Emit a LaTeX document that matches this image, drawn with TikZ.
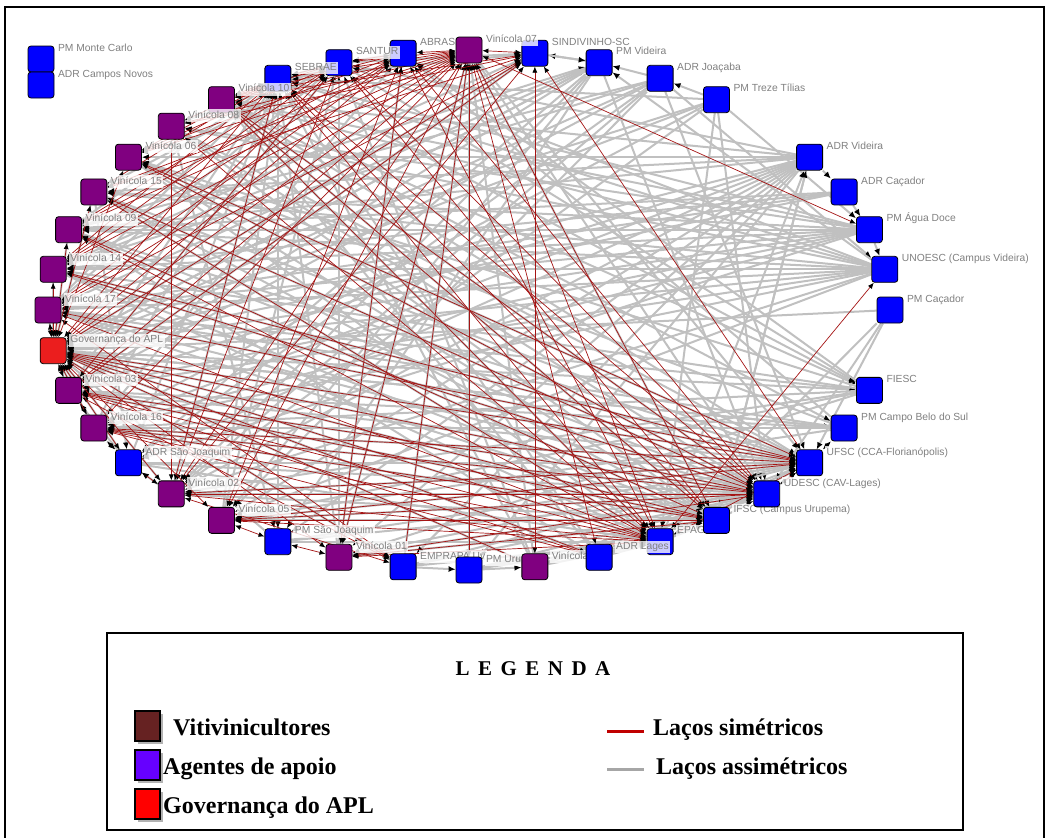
\documentclass[tikz,border=0pt]{standalone}
\usepackage{fontspec}
\setmainfont{Liberation Serif}
\newfontfamily\lblfont{Liberation Sans}
\usetikzlibrary{arrows.meta}
\pgfdeclarelayer{edges}
\pgfdeclarelayer{paper}
\pgfsetlayers{paper,edges,main}
\definecolor{nodeblue}{RGB}{0,0,255}
\definecolor{nodepurple}{RGB}{128,0,128}
\definecolor{nodered}{RGB}{235,30,30}
\definecolor{lblgray}{RGB}{128,128,128}
\definecolor{asym}{RGB}{192,192,192}
\definecolor{sym}{RGB}{165,20,20}
\definecolor{legbrown}{RGB}{102,34,34}
\definecolor{legviolet}{RGB}{102,0,255}
\definecolor{legred}{RGB}{255,0,0}
\definecolor{legredline}{RGB}{192,0,0}
\definecolor{leggrayline}{RGB}{166,166,166}
\tikzset{
  sq/.style={draw=black, line width=0.8pt, rounded corners=3pt, minimum size=26pt, inner sep=0pt},
  lbl/.style={anchor=west, font=\lblfont\fontsize{10.3}{12}\selectfont, text=lblgray, fill=white, fill opacity=0.8, text opacity=1, inner sep=1.5pt, text height=7.5pt, text depth=2.2pt},
  gedge/.style={draw=asym, line width=2pt, -{Latex[length=7pt,width=6pt,color=black]}},
  redge/.style={draw=sym, line width=0.7pt, {Latex[length=6pt,width=5pt,color=black]}-{Latex[length=6pt,width=5pt,color=black]}},
  legtxt/.style={anchor=base west, font=\bfseries\fontsize{24}{28}\selectfont, inner sep=0pt},
  legsq/.style={draw=black, line width=1.6pt},
  legshadow/.style={fill=gray!60},
}
\newcommand{\netnode}[4]{%
  \pgfmathsetmacro{\netang}{90-9*#2}%
  \node[sq, fill=#3] (#1) at ({469+421*cos(\netang)}, {310-260*sin(\netang)}) {};%
  \node[lbl] (#1-l) at ([xshift=2pt,yshift=-3pt]#1.north east) {#4};%
}
\begin{document}
\begin{tikzpicture}[x=1pt,y=-1pt]
\useasboundingbox (0,0) rectangle (1050,838);
\begin{pgfonlayer}{paper}
\fill[white] (0,0) rectangle (1050,838);
\end{pgfonlayer}
\draw[line width=1.8pt] (5,838) -- (5,7) -- (1044,7) -- (1044,838);

% isolated nodes
\node[sq, fill=nodeblue] (pmmc) at (41,59) {};
\node[lbl] (pmmc-l) at ([xshift=2pt,yshift=-3pt]pmmc.north east) {PM Monte Carlo};
\node[sq, fill=nodeblue] (adrcn) at (41,85) {};
\node[lbl] (adrcn-l) at ([xshift=2pt,yshift=-3pt]adrcn.north east) {ADR Campos Novos};

% circle nodes
\netnode{sind}{1}{nodeblue}{SINDIVINHO-SC}
\netnode{abrasel}{39}{nodeblue}{ABRASE}
\netnode{santur}{38}{nodeblue}{SANTUR}
\netnode{sebrae}{37}{nodeblue}{SEBRAE}
\netnode{v07}{0}{nodepurple}{Vinícola 07}
\netnode{v10}{36}{nodepurple}{Vinícola 10}
\netnode{v08}{35}{nodepurple}{Vinícola 08}
\netnode{v06}{34}{nodepurple}{Vinícola 06}
\netnode{v15}{33}{nodepurple}{Vinícola 15}
\netnode{v09}{32}{nodepurple}{Vinícola 09}
\netnode{v14}{31}{nodepurple}{Vinícola 14}
\netnode{v17}{30}{nodepurple}{Vinícola 17}
\netnode{gov}{29}{nodered}{Governança do APL}
\netnode{v03}{28}{nodepurple}{Vinícola 03}
\netnode{v16}{27}{nodepurple}{Vinícola 16}
\netnode{adrsj}{26}{nodeblue}{ADR São Joaquim}
\netnode{v02}{25}{nodepurple}{Vinícola 02}
\netnode{v05}{24}{nodepurple}{Vinícola 05}
\netnode{pmsj}{23}{nodeblue}{PM São Joaquim}
\netnode{v01}{22}{nodepurple}{Vinícola 01}
\netnode{embrapa}{21}{nodeblue}{EMPRAPA Uv}
\netnode{pmuru}{20}{nodeblue}{PM Uru}
\netnode{v11}{19}{nodepurple}{Vinícola 11}
\netnode{epagri}{17}{nodeblue}{EPAGRI}
\netnode{adrl}{18}{nodeblue}{ADR Lages}
\netnode{ifsc}{16}{nodeblue}{IFSC (Campus Urupema)}
\netnode{udesc}{15}{nodeblue}{UDESC (CAV-Lages)}
\netnode{ufsc}{14}{nodeblue}{UFSC (CCA-Florianópolis)}
\netnode{pmcb}{13}{nodeblue}{PM Campo Belo do Sul}
\netnode{fiesc}{12}{nodeblue}{FIESC}
\netnode{pmcac}{10}{nodeblue}{PM Caçador}
\netnode{unoesc}{9}{nodeblue}{UNOESC (Campus Videira)}
\netnode{pmad}{8}{nodeblue}{PM Água Doce}
\netnode{adrc}{7}{nodeblue}{ADR Caçador}
\netnode{adrv}{6}{nodeblue}{ADR Videira}
\netnode{pmtt}{4}{nodeblue}{PM Treze Tílias}
\netnode{adrj}{3}{nodeblue}{ADR Joaçaba}
\netnode{pmvid}{2}{nodeblue}{PM Videira}

\begin{pgfonlayer}{edges}
\foreach \a/\b in {gov/ufsc, gov/udesc, gov/ifsc, gov/epagri, gov/fiesc, gov/sind, gov/pmvid, gov/pmcb, gov/embrapa, gov/adrl,
 v17/ufsc, v17/udesc, v17/fiesc, v17/sebrae, v17/santur, v17/ifsc, v17/gov,
 v14/ufsc, v14/udesc, v14/epagri, v14/sind, v14/ifsc, v14/gov,
 v09/udesc, v09/ufsc, v09/ifsc, v09/sebrae, v09/gov, v09/pmvid,
 v15/ufsc, v15/udesc, v15/ifsc, v15/epagri, v15/adrsj, v15/gov, v15/santur,
 v06/ufsc, v06/udesc, v06/ifsc, v06/epagri,
 v08/ufsc, v08/udesc, v08/ifsc, v08/santur, v08/pmsj,
 v10/ufsc, v10/udesc, v10/ifsc, v10/fiesc, v10/pmcb, v10/epagri,
 v03/ufsc, v03/udesc, v03/ifsc, v03/sebrae, v03/santur, v03/gov, v03/sind,
 v16/ufsc, v16/udesc, v16/ifsc, v16/sebrae, v16/gov, v16/abrasel, v16/adrsj,
 v02/ufsc, v02/udesc, v02/ifsc, v02/sebrae, v02/gov, v02/adrsj,
 v05/ufsc, v05/udesc, v05/ifsc, v05/sebrae, v05/santur,
 v01/ufsc, v01/udesc, v01/ifsc, v01/sebrae, v01/santur, v01/abrasel,
 v11/ufsc, v11/udesc, v11/epagri, v11/sebrae, v11/gov, v11/v07,
 v07/ufsc, v07/udesc, v07/ifsc,
 pmvid/gov, pmvid/v17, pmvid/v14, pmvid/v03, pmvid/adrsj, pmvid/sind, pmvid/udesc,
 adrj/gov, adrj/v14, adrj/v09, adrj/pmvid, adrj/unoesc, adrj/v03, adrj/ufsc,
 pmtt/udesc, pmtt/adrj, pmtt/gov, pmtt/v17, pmtt/pmad, pmtt/epagri,
 adrv/v01, adrv/pmsj, adrv/embrapa, adrv/pmuru, adrv/ifsc, adrv/adrc, adrv/v05,
 epagri/adrv, ifsc/adrv,
 adrc/pmad, adrc/gov, adrc/v09, adrc/v17,
 pmad/gov, pmad/v17, pmad/v14, pmad/unoesc, pmad/v03,
 unoesc/gov, unoesc/v03, unoesc/pmvid, unoesc/v09,
 pmcac/udesc, pmcac/gov, pmcac/ufsc, pmcac/epagri,
 sebrae/fiesc, santur/fiesc,
 pmcb/gov, pmcb/v03, pmcb/v16,
 udesc/ufsc, ifsc/udesc, epagri/ifsc, epagri/ufsc, adrl/epagri, adrl/gov, adrl/udesc, adrl/ufsc,
 pmuru/epagri, pmuru/ifsc, pmuru/v11, pmuru/udesc,
 embrapa/ufsc, embrapa/epagri, embrapa/pmuru, embrapa/udesc,
 pmsj/sebrae, pmsj/gov, pmsj/epagri, pmsj/udesc, pmsj/ufsc,
 adrsj/gov, adrsj/sebrae, adrsj/v03, adrsj/epagri, adrsj/udesc, adrsj/ufsc,
 santur/sebrae, santur/sind, abrasel/santur, sind/pmvid, sebrae/sind, sebrae/pmsj,
 pmad/v10, unoesc/v10, adrv/v10, pmad/v08, unoesc/v08, adrv/v06, pmcb/v06, unoesc/v15, pmad/v15,
 adrv/v09, unoesc/v14, pmad/v09, adrc/v14, unoesc/v17, pmcb/v17, unoesc/sebrae, adrv/gov,
 adrv/v03, unoesc/v02, fiesc/v16, pmad/v16, fiesc/v02, unoesc/v05, adrv/v16, fiesc/v05,
 adrv/v15, fiesc/v01, pmad/sebrae, unoesc/santur, adrv/santur, pmcb/abrasel, fiesc/abrasel,
 pmvid/v05, pmvid/v02, pmvid/pmsj, adrj/v05, adrj/v02, adrj/adrsj, pmtt/v16, pmtt/v02, pmtt/sebrae,
 adrv/v02, adrv/adrsj, pmad/adrsj, unoesc/v16, pmcb/v05, fiesc/v14, fiesc/v06,
 pmuru/v07, v01/v07, embrapa/v07, v11/santur, adrl/sebrae, adrl/v10, adrl/v09}
 \draw[gedge] (\a) -- (\b);
\foreach \a/\b in {v07/v01, v07/v05, v07/pmuru, v07/embrapa, v07/adrl, v07/epagri, v07/ifsc, v07/v02, v07/v16, v07/v03, v07/gov, v07/v17, v07/v14, v07/v09, v07/v15, v07/v06, v07/v08, v07/v10, v07/sebrae, v07/santur, v07/abrasel, v07/sind, v07/pmad,
 sebrae/v10, sebrae/v08, sebrae/v06, sebrae/v15, sebrae/v14, sebrae/gov, sebrae/v02, sebrae/santur, sebrae/udesc, sebrae/epagri, sebrae/ifsc,
 santur/v10, santur/v06, santur/v09, santur/v03, santur/gov, santur/abrasel, santur/v02, santur/v14, santur/udesc, santur/ifsc,
 abrasel/v10, abrasel/v06, abrasel/v14, abrasel/v09, abrasel/v05, abrasel/gov, abrasel/v01, abrasel/v17, abrasel/epagri, abrasel/udesc,
 sind/v10, sind/v08, sind/v15, sind/v17, sind/v03, sind/v02, sind/gov, sind/ufsc, sind/v11,
 epagri/gov, epagri/v17, epagri/v09, epagri/v03, epagri/v16, epagri/v02, epagri/v05, epagri/v01, epagri/v10, epagri/ufsc, epagri/unoesc, epagri/v15, epagri/v08,
 udesc/gov, udesc/v03, udesc/v16, udesc/v02, udesc/v05, udesc/v01, udesc/v15, udesc/ufsc, udesc/v10, udesc/v14, udesc/v06,
 ufsc/gov, ufsc/v16, ufsc/v17, ufsc/v02, ufsc/pmcb, ufsc/v05, ufsc/v06, ufsc/v14,
 ifsc/gov, ifsc/v03, ifsc/v16, ifsc/v01, ifsc/v05, ifsc/v09, ifsc/v10,
 embrapa/gov, embrapa/v03, embrapa/v02, embrapa/v17,
 v08/v02, adrsj/gov, adrsj/v16, adrsj/v02,
 gov/v17, gov/v14, gov/v09, gov/v15, gov/v03, gov/v16, gov/v02, gov/v05, gov/v01, gov/v11, gov/v06,
 pmsj/v05, pmsj/v01, adrl/gov, adrl/v16, adrl/v03}
 \draw[redge] (\a) -- (\b);
\end{pgfonlayer}

% legend
\draw[line width=1.4pt] (107,633) rectangle (963,830);
\node[font=\bfseries\fontsize{21}{24}\selectfont, inner sep=0pt] (legtitle) at (533,669) {\spaceskip=8.5pt L E G E N D A};
\fill[legshadow] (138,714) rectangle (163,744);
\draw[legsq, fill=legbrown] (135,711) rectangle (160,741);
\node[legtxt] (legviti) at (173,735) {Vitivinicultores};
\fill[legshadow] (138,753) rectangle (163,783);
\draw[legsq, fill=legviolet] (135,750) rectangle (160,780);
\node[legtxt] (legagentes) at (163,774) {Agentes de apoio};
\fill[legshadow] (138,792) rectangle (163,822);
\draw[legsq, fill=legred] (135,789) rectangle (160,819);
\node[legtxt] (leggov) at (163,813) {Governança do APL};
\draw[legredline, line width=3pt] (607,731) -- (644,731);
\node[legtxt] (legsim) at (653,735) {Laços simétricos};
\draw[leggrayline, line width=3pt] (607,769) -- (644,769);
\node[legtxt] (legasim) at (656,774) {Laços assimétricos};
\end{tikzpicture}
\end{document}
